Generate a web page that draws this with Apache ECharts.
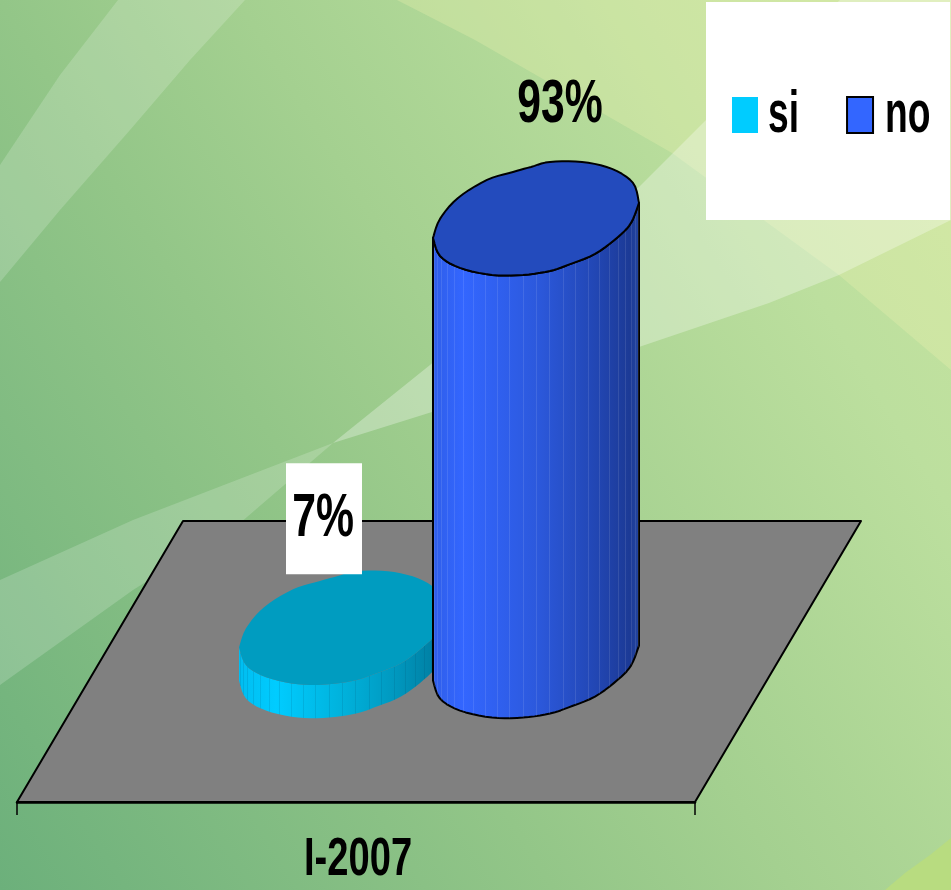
<!DOCTYPE html>
<html>
<head>
<meta charset="utf-8">
<style>html,body{margin:0;padding:0;background:#a5d090}#c{width:951px;height:890px}</style>
<script src="https://cdn.jsdelivr.net/npm/echarts@6/dist/echarts.min.js"></script>
</head>
<body>
<div id="c"></div>
<script>
const categories = ['I-2007'];
const siValues = [7];
const noValues = [93];
const siLabel = '7%';
const noLabel = '93%';

const chart = echarts.init(document.getElementById('c'), null, {renderer: 'canvas'});
const FONT = '"Liberation Sans",Arial,sans-serif';

function hGrad(stops) {
  return new echarts.graphic.LinearGradient(0, 0, 1, 0, stops.map(s => ({offset: s[0], color: s[1]})));
}

// outline of a cylinder disc, relative to its centre, left to right
const DISC_BACK_RAW = [[-103,19],[-96,0],[-78,-21],[-49,-39],[-23,-47],[-5,-52],[14,-57],[46,-57],[76,-50],[97,-36],[103,-16]];
const DISC_FRONT_RAW = [[-103,19],[-96,37],[-76,49],[-44,56],[-13,56],[14,52],[32,46],[59,35],[82,18],[95,4],[103,-16]];

function rounded(pts) {          // Catmull-Rom through the outline points
  const out = [];
  for (let i = 0; i < pts.length - 1; i++) {
    const p0 = pts[Math.max(i - 1, 0)], p1 = pts[i], p2 = pts[i + 1], p3 = pts[Math.min(i + 2, pts.length - 1)];
    for (let j = 0; j < 5; j++) {
      const t = j / 5, t2 = t * t, t3 = t2 * t;
      out.push([0, 1].map(d => 0.5 * (2 * p1[d] + (p2[d] - p0[d]) * t + (2 * p0[d] - 5 * p1[d] + 4 * p2[d] - p3[d]) * t2 + (3 * p1[d] - p0[d] - 3 * p2[d] + p3[d]) * t3)));
    }
  }
  out.push(pts[pts.length - 1]);
  return out;
}
const DISC_BACK = rounded(DISC_BACK_RAW);
const DISC_FRONT = rounded(DISC_FRONT_RAW);

const place = (pts, cx, cy) => pts.map(p => [cx + p[0], cy + p[1]]);
function frontY(arc, x) {
  for (let i = 1; i < arc.length; i++) {
    if (arc[i][0] >= x) {
      const a = arc[i - 1], b = arc[i], k = (x - a[0]) / ((b[0] - a[0]) || 1);
      return a[1] + (b[1] - a[1]) * k;
    }
  }
  return arc[arc.length - 1][1];
}

function cylinder(cfg) {
  return function (params, api) {
    const val = api.value(1);
    const band = api.coord([api.value(0), 0]);
    const top = api.coord([api.value(0), val]);
    const cx = band[0] + cfg.dx, by = band[1], ty = top[1];
    const botArc = place(DISC_FRONT, cx, by), topArc = place(DISC_FRONT, cx, ty);
    const children = [];
    children.push({
      type: 'polygon',
      shape: {points: botArc.concat(topArc.slice().reverse())},
      style: {fill: hGrad(cfg.side), stroke: cfg.stroke, lineWidth: cfg.lineWidth, lineJoin: 'round'}
    });
    for (let k = -11; k <= 11; k++) {
      const x = Math.round(cx + 103 * Math.sin(k * 7.5 * Math.PI / 180)) + 0.5;
      children.push({
        type: 'line',
        shape: {x1: x, y1: frontY(topArc, x), x2: x, y2: frontY(botArc, x)},
        style: {stroke: cfg.facet, lineWidth: 1}
      });
    }
    children.push({
      type: 'polygon',
      shape: {points: place(DISC_BACK.concat(DISC_FRONT.slice(1, -1).reverse()), cx, ty)},
      style: {fill: cfg.top, stroke: cfg.stroke, lineWidth: cfg.lineWidth, lineJoin: 'round'}
    });
    if (cfg.box) {
      children.push({
        type: 'rect',
        shape: {x: cx + cfg.box[0], y: ty + cfg.box[1], width: cfg.box[2], height: cfg.box[3]},
        style: {fill: '#ffffff'}
      });
    }
    children.push({
      type: 'text',
      x: cx + cfg.lx, y: ty + cfg.ly,
      scaleX: 0.7, scaleY: 1,
      style: {
        text: cfg.label, fill: '#000', align: 'center', verticalAlign: 'middle',
        font: 'bold 61px ' + FONT
      }
    });
    return {type: 'group', children};
  };
}

const bgShapes = [
  {pts: [[397,0],[475,40],[672,153],[839,275],[951,370],[951,0]], fill: 'rgba(238,242,175,0.3)'},
  {pts: [[118,0],[60,75],[0,165],[0,282],[60,210],[130,130],[190,60],[245,0]], fill: 'rgba(255,255,255,0.18)'},
  {pts: [[0,580],[133,520],[333,443],[240,523],[133,590],[0,685]], fill: 'rgba(255,255,255,0.18)'},
  {pts: [[333,443],[430,365],[639,187],[673,153],[706,120],[840,0],[951,0],[951,220],[839,275],[769,303],[639,347],[432,412]], fill: 'rgba(255,255,255,0.3)'},
  {pts: [[885,890],[905,873],[930,855],[951,838],[951,890]], fill: '#b8dc80'}
];

const graphicEls = [{
  type: 'rect', z: -10, silent: true,
  shape: {x: 0, y: 0, width: 951, height: 890},
  style: {fill: new echarts.graphic.LinearGradient(0, 890, 1141, 179, [
    {offset: 0, color: '#6cb07b'}, {offset: 0.35, color: '#93c688'}, {offset: 0.5, color: '#a4d090'},
    {offset: 0.75, color: '#bcdf9e'}, {offset: 1, color: '#cde6a0'}], true)}
}];
bgShapes.forEach(s => graphicEls.push({type: 'polygon', z: -9, silent: true, shape: {points: s.pts}, style: {fill: s.fill}}));
graphicEls.push({
  type: 'polygon', z: -5, silent: true,
  shape: {points: [[183,521],[861,521],[695,802],[17,802]]},
  style: {fill: '#808080', stroke: '#000', lineWidth: 2, lineJoin: 'round'}
});
graphicEls.push({type: 'rect', z: -5, silent: true, shape: {x: 706, y: 2, width: 244, height: 218}, style: {fill: '#fff'}});

chart.setOption({
  animation: false,
  graphic: {elements: graphicEls},
  grid: {left: 17, width: 678, bottom: 88, top: 185.6},
  legend: {
    left: 732, top: 85, width: 400, padding: 0, itemWidth: 26, itemHeight: 36, itemGap: 33, selectedMode: false,
    textStyle: {color: '#000', fontFamily: FONT, fontWeight: 'bold', fontSize: 60},
    data: [
      {name: 'si', icon: 'rect', itemStyle: {color: '#00ccff', borderWidth: 0}},
      {name: 'no', icon: 'rect', itemStyle: {color: '#3366ff', borderColor: '#000', borderWidth: 2}}
    ]
  },
  xAxis: {
    type: 'category', data: categories, z: 3,
    axisLine: {show: true, onZero: false, lineStyle: {color: '#000', width: 2.5}},
    axisTick: {show: true, length: 13, lineStyle: {color: '#000', width: 1.5}},
    axisLabel: {color: '#000', fontFamily: FONT, fontWeight: 'bold', fontSize: 53, margin: 32}
  },
  yAxis: {type: 'value', min: -29.5, max: 100, show: false, splitLine: {show: false}},
  series: [
    {
      name: 'si', type: 'custom', coordinateSystem: 'cartesian2d', z: 4,
      itemStyle: {color: '#00ccff'}, encode: {x: 0, y: 1},
      data: siValues.map((v, i) => [i, v]),
      renderItem: cylinder({
        dx: -14, stroke: null, lineWidth: 0, top: '#009cc0', facet: 'rgba(0,60,90,0.12)',
        side: [[0,'#00bdf0'],[0.18,'#00ccff'],[0.5,'#00b2dc'],[0.75,'#0099c0'],[1,'#00799c']],
        box: [-56, -165, 76, 111], lx: -19, ly: -109, label: siLabel
      })
    },
    {
      name: 'no', type: 'custom', coordinateSystem: 'cartesian2d', z: 5,
      itemStyle: {color: '#3366ff'}, encode: {x: 0, y: 1},
      data: noValues.map((v, i) => [i, v]),
      renderItem: cylinder({
        dx: 180, stroke: '#000', lineWidth: 2, top: '#234bbd', facet: 'rgba(255,255,255,0.1)',
        side: [[0,'#2f5ee8'],[0.15,'#3366ff'],[0.5,'#2c59dd'],[0.78,'#2247b5'],[0.95,'#1c3a96'],[1,'#23459f']],
        lx: 24, ly: -114, label: noLabel
      })
    }
  ]
});

// the reference uses a condensed bold face: squeeze the legend and axis labels horizontally
const squeeze = {si: {sx: 0.62, dx: 5, dy: 0}, no: {sx: 0.62, dx: 7, dy: 0}, 'I-2007': {sx: 0.72, dx: 2, dy: 0}};
chart.getZr().storage.getRoots().forEach(root => {
  const visit = el => {
    const t = el.style && el.style.text;
    if (t && squeeze[t] && el.type !== 'tspan' && el.scaleX === 1 && !el.__done) {
      const s = squeeze[t];
      el.originX = el.style.x || 0;
      el.originY = el.style.y || 0;
      el.scaleX = s.sx;
      el.x += s.dx; el.y += s.dy;
      el.__done = true;
      el.markRedraw();
    }
    if (el.isGroup) el.eachChild(visit);
  };
  visit(root);
});
chart.getZr().refreshImmediately();
</script>
</body>
</html>
